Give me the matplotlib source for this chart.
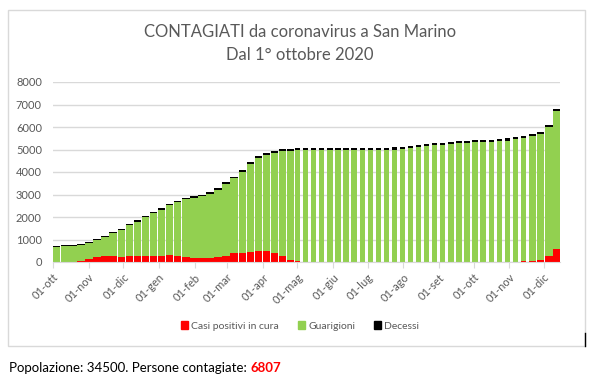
import matplotlib
matplotlib.use('Agg')
import matplotlib.pyplot as plt
import matplotlib.dates as mdates
from matplotlib.patches import Patch, Rectangle
from matplotlib.lines import Line2D
import numpy as np
import pandas as pd

# --- data (one value per week starting 1 Oct 2020) ---
week_start = pd.date_range('2020-10-01', periods=63, freq='7D')

totale = [700, 740, 745, 780, 900, 1030, 1150, 1330, 1480, 1700,
          1850, 2050, 2220, 2380, 2600, 2710, 2850, 2930, 3000, 3110,
          3280, 3550, 3800, 4080, 4450, 4700, 4840, 4950, 5020, 5040,
          5050, 5055, 5060, 5060, 5062, 5064, 5066, 5068, 5070, 5072,
          5075, 5080, 5090, 5100, 5150, 5180, 5230, 5280, 5310, 5340,
          5370, 5400, 5415, 5430, 5440, 5450, 5490, 5560, 5600, 5670,
          5800, 6100, 6807]

positivi = [0, 0, 0, 40, 140, 220, 260, 250, 220, 250,
            250, 250, 250, 280, 300, 280, 220, 190, 180, 200,
            220, 280, 380, 420, 450, 490, 500, 420, 260, 90,
            30, 15, 10, 8, 5, 0, 0, 0, 0, 0,
            0, 0, 5, 15, 20, 20, 15, 15, 10, 10,
            8, 5, 0, 0, 0, 5, 10, 20, 30, 50,
            110, 250, 600]

decessi = [42, 42, 42, 42, 42, 43, 44, 46, 48, 51,
           53, 55, 58, 60, 63, 65, 67, 68, 69, 70,
           72, 74, 77, 80, 83, 86, 88, 89, 90, 90,
           90, 90, 90, 90, 90, 90, 90, 90, 90, 90,
           90, 90, 90, 90, 90, 90, 90, 90, 90, 91,
           91, 91, 91, 91, 91, 91, 91, 91, 92, 92,
           93, 94, 95]

mesi = ['ott', 'nov', 'dic', 'gen', 'feb', 'mar', 'apr', 'mag', 'giu',
        'lug', 'ago', 'set', 'ott', 'nov', 'dic']

popolazione = 34500

# --- styling ---
ROSSO = '#FF0000'
VERDE = '#92D050'
NERO = '#000000'
GRIGIO = '#595959'
GRIGLIA = '#D9D9D9'
FONT = 'Lato'

totale = np.array(totale)
positivi = np.array(positivi)
decessi = np.array(decessi)
guariti = totale - positivi - decessi

plt.rcParams['font.family'] = [FONT, 'DejaVu Sans']

W, H = 597, 378
fig = plt.figure(figsize=(W / 100, H / 100), dpi=100)
ax = fig.add_axes([53 / W, 1 - 262 / H, (560 - 53) / W, (262 - 82) / H])

# weekdays-only reporting in summer/autumn 2021 -> narrower blocks
giorni = (week_start - week_start[0]).days.values
larghezza = np.where((giorni >= 210) & (giorni < 413), 4.6, 6.5)

x = mdates.date2num(week_start)
ax.bar(x, positivi, width=larghezza, align='edge', color=ROSSO, linewidth=0)
ax.bar(x, guariti, width=larghezza, bottom=positivi, align='edge',
       color=VERDE, linewidth=0)
ax.bar(x, decessi, width=larghezza, bottom=positivi + guariti, align='edge',
       color=NERO, linewidth=0)

x0 = mdates.date2num(pd.Timestamp('2020-10-01'))
ax.set_xlim(x0, x0 + 440)
ax.set_ylim(0, 8000)

ax.set_yticks(range(0, 8001, 1000))
ax.yaxis.grid(True, color=GRIGLIA, linewidth=1)
ax.set_axisbelow(True)
ax.tick_params(axis='y', length=0, labelsize=8, labelcolor=GRIGIO, pad=8)

tick_date = pd.date_range('2020-10-01', periods=len(mesi), freq='MS')
ax.set_xticks(mdates.date2num(tick_date))
ax.set_xticklabels(['01-' + m for m in mesi], rotation=45, ha='right',
                   va='top', rotation_mode='anchor')
ax.tick_params(axis='x', length=4, color=GRIGLIA, labelsize=8,
               labelcolor=GRIGIO, pad=3)

for s in ['top', 'right', 'left']:
    ax.spines[s].set_visible(False)
ax.spines['bottom'].set_color(GRIGLIA)

fig.text(300 / W, 1 - 32 / H, 'CONTAGIATI da coronavirus a San Marino',
         ha='center', va='center', fontsize=12, color=GRIGIO)
fig.text(300 / W, 1 - 55 / H, 'Dal 1° ottobre 2020',
         ha='center', va='center', fontsize=12, color=GRIGIO)

handles = [Patch(color=ROSSO, label='Casi positivi in cura'),
           Patch(color=VERDE, label='Guarigioni'),
           Patch(color=NERO, label='Decessi')]
fig.legend(handles=handles, loc='center', bbox_to_anchor=(300 / W, 1 - 326 / H),
           ncol=3, frameon=False, fontsize=7.5, labelcolor=GRIGIO,
           handlelength=0.7, handleheight=0.7, handletextpad=0.3,
           columnspacing=1.8)

# chart frame
fig.patches.append(Rectangle((8 / W, 1 - 346 / H), (585 - 8) / W, (346 - 10) / H,
                             transform=fig.transFigure, fill=False,
                             edgecolor=GRIGLIA, linewidth=1))
fig.lines.append(Line2D([585 / W, 585 / W], [1 - 333 / H, 1 - 346 / H],
                        transform=fig.transFigure, color=NERO, linewidth=1))

t = fig.text(9 / W, 1 - 368 / H, f'Popolazione: {popolazione}. Persone contagiate: ',
             ha='left', va='center', fontsize=9.5, color=NERO)
r = fig.canvas.get_renderer()
bb = t.get_window_extent(renderer=r)
fig.text(bb.x1 / W, 1 - 368 / H, f'{totale[-1]}', ha='left', va='center',
         fontsize=9.5, color=ROSSO, fontweight='bold')

fig.savefig('out.png', dpi=100)
